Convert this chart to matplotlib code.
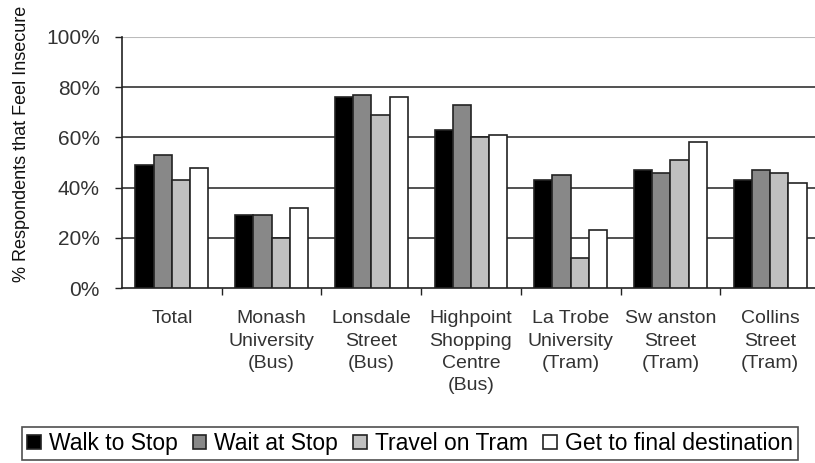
import numpy as np
import matplotlib.pyplot as plt
from matplotlib.ticker import PercentFormatter

plt.rcParams['font.family'] = ['Liberation Sans', 'DejaVu Sans']

# Data (% respondents that feel insecure)
locations = ["Total", "Monash\nUniversity\n(Bus)", "Lonsdale\nStreet\n(Bus)",
             "Highpoint\nShopping\nCentre\n(Bus)", "La Trobe\nUniversity\n(Tram)",
             "Sw anston\nStreet\n(Tram)", "Collins\nStreet\n(Tram)"]
walk_to_stop = [49, 29, 76, 63, 43, 47, 43]
wait_at_stop = [53, 29, 77, 73, 45, 46, 47]
travel_on_tram = [43, 20, 69, 60, 12, 51, 46]
get_to_destination = [48, 32, 76, 61, 23, 58, 42]

series = [walk_to_stop, wait_at_stop, travel_on_tram, get_to_destination]
series_names = ["Walk to Stop", "Wait at Stop", "Travel on Tram", "Get to final destination"]
colors = ["#000000", "#888888", "#c0c0c0", "#ffffff"]

fig = plt.figure(figsize=(8.15, 4.63), dpi=100)
# axes runs slightly past the right edge, as in the reference
ax = fig.add_axes([122 / 815, 175 / 463, 698 / 815, 251 / 463])

x = np.arange(len(locations))
bar_w = 0.183
for i, (vals, name, col) in enumerate(zip(series, series_names, colors)):
    ax.bar(x + (i - 1.5) * bar_w, vals, width=bar_w, color=col,
           edgecolor="#222222", linewidth=1.2, label=name, zorder=3)

ax.set_xlim(-0.5, len(locations) - 0.5)
ax.set_ylim(0, 100)
ax.set_yticks(np.arange(0, 101, 20))
ax.yaxis.set_major_formatter(PercentFormatter(decimals=0))

# gridlines
for v in [20, 40, 60, 80]:
    ax.axhline(v, color="#222222", linewidth=1.1, zorder=1)
ax.axhline(100, color="#bbbbbb", linewidth=1.5, zorder=1)

for side in ["top", "right"]:
    ax.spines[side].set_visible(False)
ax.spines["left"].set_color("#222222")
ax.spines["bottom"].set_color("#222222")
ax.spines["left"].set_linewidth(1.2)
ax.spines["bottom"].set_linewidth(1.2)

# category labels between boundary ticks
ax.set_xticks(x)
ax.set_xticklabels(locations, fontsize=14, color="#333333", linespacing=1.41)
ax.tick_params(axis="x", length=0, pad=16)
ax.set_xticks(np.arange(0.5, len(locations) - 0.5, 1), minor=True)
ax.tick_params(axis="x", which="minor", length=5, width=1, color="#222222", direction="out")
ax.tick_params(axis="y", length=5, width=1, color="#222222", labelsize=15,
               labelcolor="#333333", pad=11)

fig.text(0.026, (463 - 144) / 463, "% Respondents that Feel Insecure",
         rotation=90, ha="center", va="center", fontsize=13, color="#111111")

leg = fig.legend(loc="lower left", bbox_to_anchor=(22 / 815, 3 / 463), ncol=4,
                 fontsize=16.5, frameon=True, fancybox=False, handlelength=0.6,
                 handleheight=0.6, handletextpad=0.35, columnspacing=0.65,
                 borderpad=0.22, borderaxespad=0)
leg.get_frame().set_edgecolor("#222222")
leg.get_frame().set_linewidth(1.2)

plt.savefig("out.png", dpi=100)
plt.close()
